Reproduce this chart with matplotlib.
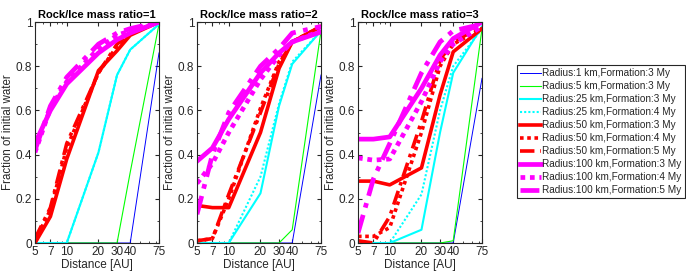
import numpy as np
import matplotlib
matplotlib.use("Agg")
import matplotlib.pyplot as plt
from matplotlib.ticker import FixedLocator, MultipleLocator, LogLocator, NullFormatter

plt.rcParams['font.family'] = ['Liberation Sans', 'DejaVu Sans']

distance = [5, 7, 10, 20, 30, 40, 75]
tick_labels = ["5", "7", "10", "20", "30", "40", "75"]
ratios = [1, 2, 3]

labels = [
    "Radius:1 km,Formation:3 My",
    "Radius:5 km,Formation:3 My",
    "Radius:25 km,Formation:3 My",
    "Radius:25 km,Formation:4 My",
    "Radius:50 km,Formation:3 My",
    "Radius:50 km,Formation:4 My",
    "Radius:50 km,Formation:5 My",
    "Radius:100 km,Formation:3 My",
    "Radius:100 km,Formation:4 My",
    "Radius:100 km,Formation:5 My",
]

# ratio = 1
r1_1km = [0, 0, 0, 0, 0, 0, 0.86]
r1_5km = [0, 0, 0, 0, 0, 0.32, 0.99]
r1_25km_3 = [0, 0, 0, 0.41, 0.76, 0.875, 0.99]
r1_25km_4 = [0, 0, 0, 0.41, 0.76, 0.875, 0.99]
r1_50km_3 = [0, 0.12, 0.38, 0.78, 0.87, 0.94, 1.0]
r1_50km_4 = [0.01, 0.15, 0.43, 0.77, 0.89, 0.95, 1.0]
r1_50km_5 = [0.02, 0.16, 0.45, 0.77, 0.9, 0.95, 1.0]
r1_100km_3 = [0.45, 0.6, 0.72, 0.86, 0.92, 0.95, 1.0]
r1_100km_4 = [0.41, 0.61, 0.73, 0.88, 0.94, 0.96, 1.0]
r1_100km_5 = [0.42, 0.62, 0.75, 0.9, 0.95, 0.97, 1.0]

# ratio = 2
r2_1km = [0, 0, 0, 0, 0, 0, 0.76]
r2_5km = [0, 0, 0, 0, 0, 0.06, 0.96]
r2_25km_3 = [0, 0, 0, 0.225, 0.62, 0.81, 0.96]
r2_25km_4 = [0, 0, 0, 0.3, 0.63, 0.82, 0.96]
r2_50km_3 = [0.17, 0.16, 0.16, 0.5, 0.79, 0.91, 0.98]
r2_50km_4 = [0.01, 0.02, 0.2, 0.61, 0.82, 0.91, 0.98]
r2_50km_5 = [0.01, 0.02, 0.22, 0.59, 0.81, 0.91, 0.98]
r2_100km_3 = [0.37, 0.43, 0.56, 0.77, 0.86, 0.91, 0.955]
r2_100km_4 = [0.27, 0.36, 0.5, 0.74, 0.85, 0.91, 0.96]
r2_100km_5 = [0.13, 0.4, 0.59, 0.8, 0.88, 0.95, 0.98]

# ratio = 3
r3_1km = [0, 0, 0, 0, 0, 0, 0.745]
r3_5km = [0, 0, 0, 0, 0, 0.01, 0.97]
r3_25km_3 = [0, 0, 0, 0.06, 0.5, 0.77, 0.98]
r3_25km_4 = [0, 0, 0, 0.22, 0.6, 0.8, 0.97]
r3_50km_3 = [0.28, 0.28, 0.263, 0.34, 0.67, 0.865, 0.97]
r3_50km_4 = [0.03, 0.03, 0.07, 0.5, 0.8, 0.9, 0.97]
r3_50km_5 = [0.01, 0.0, 0.12, 0.55, 0.83, 0.91, 0.98]
r3_100km_3 = [0.47, 0.47, 0.48, 0.7, 0.85, 0.925, 1.0]
r3_100km_4 = [0.385, 0.375, 0.38, 0.64, 0.82, 0.9, 0.98]
r3_100km_5 = [0.045, 0.29, 0.45, 0.77, 0.91, 0.96, 0.99]

series = {
    1: [r1_1km, r1_5km, r1_25km_3, r1_25km_4, r1_50km_3, r1_50km_4, r1_50km_5,
        r1_100km_3, r1_100km_4, r1_100km_5],
    2: [r2_1km, r2_5km, r2_25km_3, r2_25km_4, r2_50km_3, r2_50km_4, r2_50km_5,
        r2_100km_3, r2_100km_4, r2_100km_5],
    3: [r3_1km, r3_5km, r3_25km_3, r3_25km_4, r3_50km_3, r3_50km_4, r3_50km_5,
        r3_100km_3, r3_100km_4, r3_100km_5],
}

dot = (0, (1, 1))
dashdot = (0, (4, 1.6, 1, 1.6))
styles = [
    dict(color="#0000ff", lw=0.7, ls="-"),
    dict(color="#00ff00", lw=0.8, ls="-"),
    dict(color="#00ffff", lw=1.5, ls="-"),
    dict(color="#00ffff", lw=1.5, ls=dot),
    dict(color="#ff0000", lw=2.6, ls="-"),
    dict(color="#ff0000", lw=2.6, ls=dot),
    dict(color="#ff0000", lw=2.6, ls=dashdot),
    dict(color="#ff00ff", lw=3.4, ls="-"),
    dict(color="#ff00ff", lw=3.4, ls=dot),
    dict(color="#ff00ff", lw=3.4, ls=dashdot),
]

fig = plt.figure(figsize=(6.86, 2.75), dpi=100)
lefts = [35, 197, 358]
axgray = "#262626"

handles = []
for i, ratio in enumerate(ratios):
    ax = fig.add_axes([lefts[i] / 686, 32 / 275, 124 / 686, 221 / 275])
    for vals, st in zip(series[ratio], styles):
        ln, = ax.plot(distance, vals, color=st["color"], lw=st["lw"], linestyle=st["ls"])
        if i == 0:
            handles.append(ln)
    ax.set_xscale("log")
    ax.set_xlim(5, 75)
    ax.set_ylim(0, 1)
    ax.xaxis.set_major_locator(FixedLocator(distance))
    ax.xaxis.set_minor_locator(LogLocator(base=10, subs=range(2, 10)))
    ax.xaxis.set_minor_formatter(NullFormatter())
    ax.set_xticklabels(tick_labels)
    ax.set_yticks([0, 0.2, 0.4, 0.6, 0.8, 1.0])
    ax.set_yticklabels(["0", "0.2", "0.4", "0.6", "0.8", "1"])
    ax.yaxis.set_minor_locator(MultipleLocator(0.1))
    ax.tick_params(which="both", direction="in", top=True, right=True,
                   labelsize=8.5, colors=axgray, pad=2)
    ax.tick_params(which="major", length=3)
    ax.tick_params(which="minor", length=1.5)
    for sp in ax.spines.values():
        sp.set_color(axgray)
        sp.set_linewidth(0.8)
    ax.set_title("Rock/Ice mass ratio=%d" % ratio, fontsize=8, fontweight="bold", pad=3)
    ax.set_xlabel("Distance [AU]", fontsize=8.5, color=axgray, labelpad=1)
    ax.set_ylabel("Fraction of initial water", fontsize=8.3, color=axgray, labelpad=1)

leg = fig.legend(handles, labels, loc="upper left", bbox_to_anchor=(517 / 686, 1 - 65 / 275),
                 fontsize=7.2, handlelength=2.1, handletextpad=0.15, labelspacing=0.3,
                 borderpad=0.3, borderaxespad=0, fancybox=False, framealpha=1)
leg.get_frame().set_edgecolor(axgray)
leg.get_frame().set_linewidth(0.8)
for t in leg.get_texts():
    t.set_color(axgray)

fig.savefig("out.png", dpi=100)
